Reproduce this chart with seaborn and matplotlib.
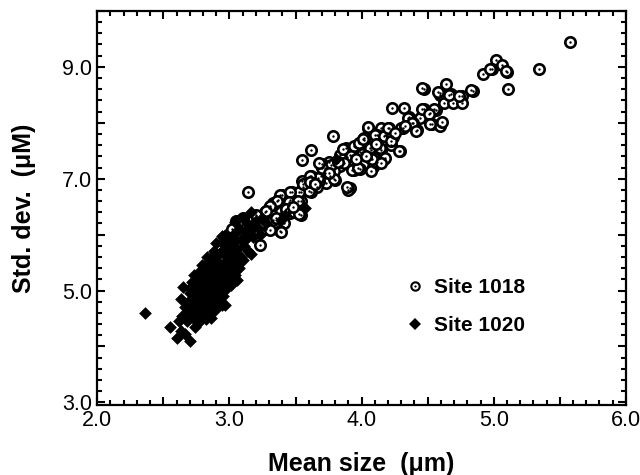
import matplotlib
matplotlib.use("Agg")
import matplotlib.pyplot as plt
import seaborn as sns
from matplotlib.lines import Line2D
from matplotlib.legend_handler import HandlerTuple
from matplotlib.ticker import MultipleLocator, FuncFormatter

# Site 1018 (mean size, std. dev.)
site1018_x = [5.58, 5.34, 5.02, 5.06, 4.99, 4.92, 5.10, 5.11, 4.84, 4.64, 4.47, 4.59, 4.59, 4.68,
              4.76, 4.62, 4.69, 4.76, 4.23, 4.32, 4.47, 4.56, 4.52, 4.44, 4.36, 4.39, 4.42, 4.53,
              4.59, 4.61, 4.31, 4.21, 4.15, 4.05, 4.12, 4.18, 4.24, 4.02, 3.99, 3.88, 3.95, 3.99,
              4.07, 4.15, 4.22, 4.29, 3.89, 4.07, 4.17, 4.09, 3.78, 3.62, 3.55, 3.91, 3.84, 3.75,
              3.70, 3.79, 3.84, 4.12, 3.94, 3.99, 4.07, 3.72, 3.79, 3.72, 3.69, 3.76, 3.80, 3.73,
              3.68, 3.62, 3.61, 3.55, 3.56, 3.66, 3.62, 3.54, 3.47, 3.40, 3.46, 3.54, 3.37, 3.33,
              3.30, 3.37, 3.45, 3.53, 3.54, 3.46, 3.38, 3.32, 3.27, 3.23, 3.18, 3.33, 3.41, 3.13,
              3.14, 3.91, 3.90, 3.05, 3.10, 3.14, 3.19, 3.22, 3.23, 3.28, 3.38, 3.39, 2.98, 3.09,
              3.31, 4.00, 3.86, 3.94, 3.98, 4.02, 4.05, 4.08, 4.01, 4.10, 4.17, 4.23, 4.28, 4.14,
              4.06, 4.18, 4.15, 3.92, 3.87, 3.93, 3.97, 3.77, 3.70, 3.68, 3.67, 3.79, 3.60, 3.53,
              3.46, 3.38, 3.36, 3.45, 3.52, 3.31, 3.28, 3.39, 3.43, 3.49, 3.53, 4.35, 4.46, 4.46,
              4.55, 4.51, 4.30, 4.20, 4.22, 4.38, 4.41, 4.52, 4.58, 4.66, 4.74, 4.83, 4.97, 5.09,
              3.61, 3.56, 3.61, 3.89, 3.20, 3.25, 3.15, 3.02, 3.08, 3.35, 3.48, 3.65, 3.75, 3.82,
              3.96, 4.03, 4.11, 4.25, 4.33]
site1018_y = [9.45, 8.96, 9.12, 9.04, 8.96, 8.88, 8.91, 8.61, 8.57, 8.69, 8.61, 8.54, 8.49, 8.51,
              8.48, 8.36, 8.36, 8.36, 8.27, 8.27, 8.24, 8.23, 8.17, 8.08, 8.10, 7.99, 7.87, 7.98,
              7.94, 8.02, 7.90, 7.90, 7.90, 7.90, 7.78, 7.78, 7.74, 7.69, 7.63, 7.54, 7.57, 7.48,
              7.51, 7.52, 7.60, 7.50, 7.39, 7.36, 7.36, 7.21, 7.76, 7.52, 7.33, 7.42, 7.42, 7.29,
              7.27, 7.25, 7.22, 7.30, 7.16, 7.17, 7.14, 7.19, 7.13, 7.10, 7.04, 7.05, 6.98, 6.92,
              6.96, 7.04, 6.95, 6.95, 6.86, 6.86, 6.77, 6.77, 6.77, 6.71, 6.62, 6.61, 6.62, 6.56,
              6.47, 6.47, 6.53, 6.51, 6.35, 6.39, 6.38, 6.35, 6.41, 6.26, 6.29, 6.26, 6.20, 6.26,
              6.77, 6.83, 6.80, 6.25, 6.29, 6.07, 6.16, 6.04, 5.82, 6.10, 6.06, 6.05, 5.83, 6.26,
              6.08, 7.45, 7.53, 7.58, 7.63, 7.72, 7.92, 7.36, 7.71, 7.79, 7.76, 7.76, 7.49, 7.55,
              7.55, 7.37, 7.28, 7.40, 7.28, 7.15, 7.20, 7.24, 7.20, 7.28, 7.02, 6.99, 6.78, 6.76,
              6.76, 6.70, 6.60, 6.58, 6.61, 6.51, 6.43, 6.43, 6.46, 6.41, 6.36, 8.08, 8.62, 8.24,
              8.24, 8.16, 7.91, 7.91, 7.67, 7.99, 7.86, 7.98, 8.55, 8.50, 8.47, 8.59, 8.96, 8.92,
              7.05, 6.90, 6.94, 6.86, 6.35, 6.20, 6.10, 6.10, 6.00, 6.30, 6.50, 6.90, 7.10, 7.30,
              7.35, 7.40, 7.62, 7.82, 7.95]

# Site 1020
site1020_x = [2.36, 2.55, 2.60, 2.63, 2.66, 2.70, 2.62, 2.64, 2.63, 2.65, 2.66, 2.68, 2.69, 2.70,
              2.71, 2.72, 2.73, 2.73, 2.74, 2.75, 2.75, 2.76, 2.76, 2.77, 2.77, 2.78, 2.78, 2.79,
              2.79, 2.80, 2.80, 2.80, 2.81, 2.81, 2.82, 2.82, 2.82, 2.83, 2.83, 2.84, 2.84, 2.84,
              2.85, 2.85, 2.86, 2.86, 2.87, 2.87, 2.88, 2.88, 2.89, 2.89, 2.90, 2.90, 2.91, 2.91,
              2.92, 2.92, 2.93, 2.93, 2.94, 2.94, 2.94, 2.95, 2.95, 2.96, 2.96, 2.97, 2.97, 2.98,
              2.98, 2.99, 2.99, 3.00, 3.00, 3.01, 3.02, 3.02, 3.03, 3.04, 3.04, 3.04, 3.05, 3.06,
              3.06, 3.07, 3.08, 3.09, 3.09, 3.10, 3.10, 3.11, 3.12, 3.13, 3.14, 3.15, 3.16, 3.16,
              3.17, 3.18, 3.20, 3.22, 3.23, 3.25, 3.28, 3.39, 3.42, 3.57, 3.81, 2.80, 2.85, 2.88,
              2.78, 2.74, 2.72, 2.90, 2.97, 3.00, 2.86, 2.92, 2.95, 3.01,
              2.70, 2.72, 2.74, 2.76, 2.79, 2.81, 2.83, 2.85, 2.87, 2.89, 2.91, 2.93, 2.95, 2.96,
              2.98, 3.00, 3.02, 3.05, 3.07, 3.12, 2.94, 2.90, 2.84, 2.77, 2.68]
site1020_y = [4.60, 4.34, 4.15, 4.27, 4.22, 4.10, 4.46, 4.55, 4.85, 5.06, 4.70, 4.62, 4.80, 4.95,
              4.52, 4.68, 5.27, 4.88, 5.10, 4.60, 4.45, 5.00, 4.75, 5.20, 4.44, 4.90, 5.35, 4.62,
              5.05, 5.25, 4.80, 4.55, 5.40, 4.98, 4.49, 5.15, 4.70, 5.30, 4.85, 5.50, 5.05, 4.60,
              5.20, 4.95, 5.38, 4.75, 5.60, 5.10, 4.90, 5.45, 5.25, 4.65, 5.55, 5.00, 5.35, 4.80,
              5.65, 5.15, 5.45, 4.95, 4.75, 5.98, 5.30, 5.70, 5.10, 5.50, 5.94, 4.74, 5.25, 5.60,
              5.05, 5.80, 5.40, 5.20, 5.65, 5.50, 5.85, 5.35, 6.00, 5.27, 6.23, 5.60, 5.45, 5.19,
              5.75, 6.10, 5.55, 5.60, 5.90, 5.55, 6.30, 5.80, 5.91, 6.20, 5.70, 6.05, 5.66, 6.41,
              6.15, 5.95, 6.25, 6.10, 6.00, 6.30, 6.20, 6.27, 6.35, 6.48, 7.36, 5.10, 5.55, 5.70,
              4.70, 4.35, 5.15, 5.85, 6.00, 5.95, 4.50, 4.90, 5.40, 5.10,
              5.05, 4.85, 4.55, 5.30, 5.45, 4.65, 5.60, 4.80, 5.30, 5.05, 5.50, 5.25, 4.90, 5.75,
              5.35, 5.50, 5.65, 5.90, 5.40, 6.05, 5.85, 5.20, 5.35, 4.85, 4.45]

labels = ["Site 1018", "Site 1020"]

sns.set_style("ticks")
plt.rcParams["font.family"] = ["Liberation Sans", "DejaVu Sans"]
for key in ["text.color", "axes.labelcolor", "xtick.color", "ytick.color", "axes.edgecolor"]:
    plt.rcParams[key] = "black"

fig = plt.figure(figsize=(6.4, 4.75), dpi=100)
ax = fig.add_axes([0.152, 0.147, 0.826, 0.830])

# open circles with a dot in the middle
sns.scatterplot(x=site1018_x, y=site1018_y, ax=ax, marker="o", s=56,
                facecolor="white", edgecolor="black", linewidth=1.9, zorder=2)
sns.scatterplot(x=site1018_x, y=site1018_y, ax=ax, marker="o", s=3,
                color="black", linewidth=0, zorder=3)
# filled diamonds
sns.scatterplot(x=site1020_x, y=site1020_y, ax=ax, marker="D", s=42,
                color="black", linewidth=0, zorder=4)

ax.set_xlim(2.0, 6.0)
ax.set_ylim(2.95, 10.0)
ax.xaxis.set_major_locator(MultipleLocator(0.5))
ax.xaxis.set_minor_locator(MultipleLocator(0.1))
ax.yaxis.set_major_locator(MultipleLocator(1.0))
ax.yaxis.set_minor_locator(MultipleLocator(0.2))
ax.xaxis.set_major_formatter(FuncFormatter(lambda v, p: f"{v:.1f}" if abs(v - round(v)) < 1e-6 else ""))
ax.yaxis.set_major_formatter(FuncFormatter(lambda v, p: f"{v:.1f}" if abs(v - round(v)) < 1e-6 and round(v) % 2 == 1 else ""))

ax.tick_params(which="both", direction="in", top=True, right=True, width=1.5, labelsize=15.5)
ax.tick_params(which="major", length=6)
ax.tick_params(which="minor", length=3.5)
for sp in ax.spines.values():
    sp.set_linewidth(1.6)

ax.set_xlabel("Mean size  (\u03bcm)", fontsize=18, fontweight="bold", labelpad=15)
ax.set_ylabel("Std. dev.  (\u03bcM)", fontsize=18, fontweight="bold", labelpad=19)

h_circ = Line2D([], [], marker="o", ms=6, mfc="white", mec="black", mew=1.5, ls="")
h_dot = Line2D([], [], marker="o", ms=1.6, mfc="black", mec="black", mew=0, ls="")
h_dia = Line2D([], [], marker="D", ms=6, mfc="black", mec="black", mew=0, ls="")
ax.legend([(h_circ, h_dot), h_dia], labels, handler_map={tuple: HandlerTuple(ndivide=1)},
          loc="upper left", bbox_to_anchor=(0.581, 0.322), frameon=False,
          borderpad=0, borderaxespad=0, handlelength=1.0, handletextpad=0.41,
          labelspacing=0.91, prop={"weight": "bold", "size": 15})

fig.savefig("out.png", dpi=100)
